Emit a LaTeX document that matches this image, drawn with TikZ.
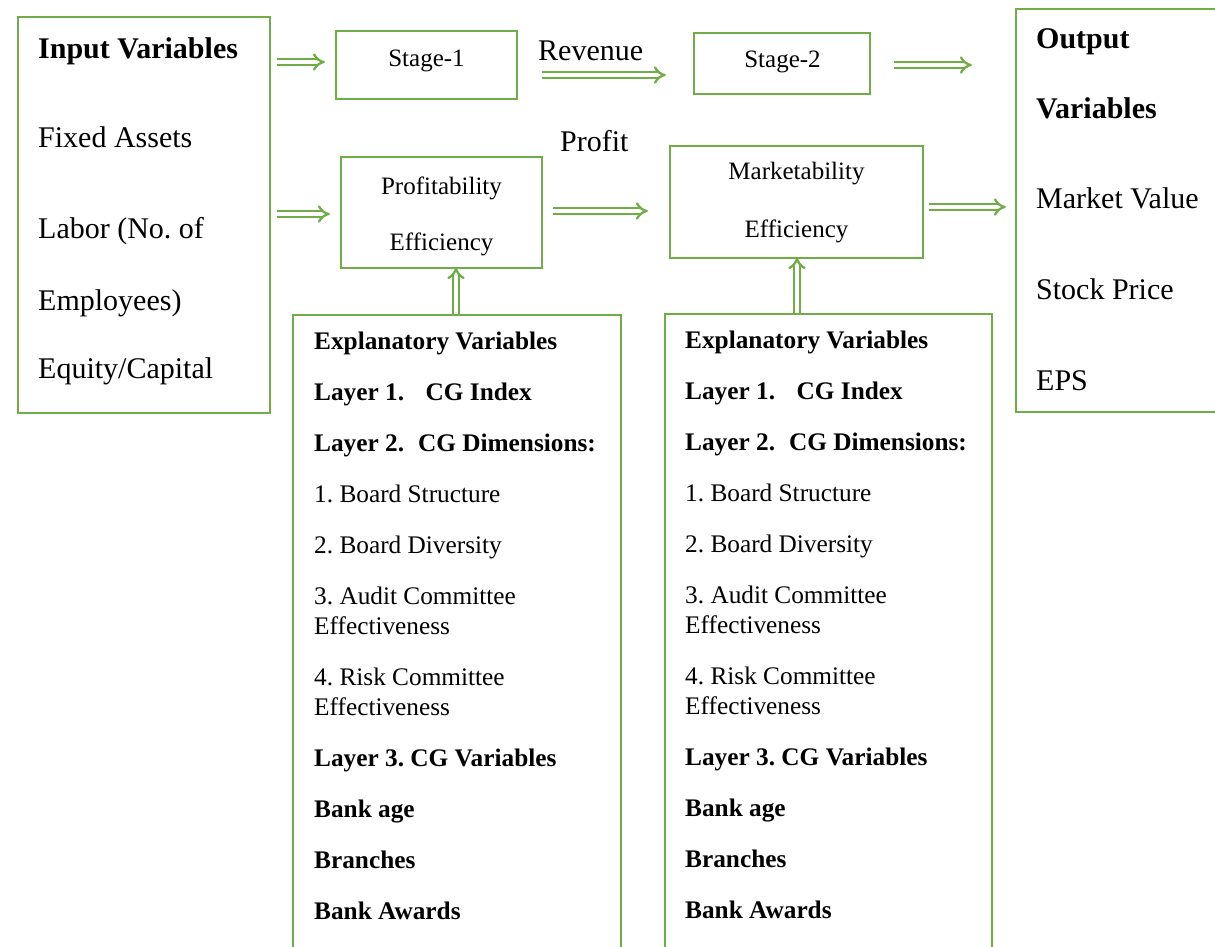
\documentclass[tikz,border=0pt]{standalone}
\usepackage{fontspec}
\setmainfont{Liberation Serif}
\usetikzlibrary{arrows.meta}
\definecolor{grn}{RGB}{112,173,71}
\begin{document}
\frenchspacing
\begin{tikzpicture}[x=1pt,y=-1pt,
  box/.style={draw=grn,line width=2.2pt,inner sep=0pt},
  dbl/.style={draw=grn,double=white,double distance=3.4pt,line width=2.3pt,-{Implies[length=5pt]}},
  big/.style={anchor=base west,inner sep=0pt,font=\fontsize{30}{36}\selectfont},
  mid/.style={anchor=base,inner sep=0pt,font=\fontsize{25}{30}\selectfont},
  ex/.style={anchor=base west,inner sep=0pt,font=\fontsize{25.3}{30}\selectfont}]
\useasboundingbox (0,0) rectangle (1215,946);
\clip (0,0) rectangle (1215,946);
% boxes
\node[box,minimum width=252pt,minimum height=396pt] (input) at (144,215) {};
\node[box,minimum width=181pt,minimum height=68pt] (s1) at (426.5,65) {};
\node[box,minimum width=176pt,minimum height=61pt] (s2) at (782,63.5) {};
\node[box,minimum width=210pt,minimum height=403pt] (output) at (1121,210.5) {};
\node[box,minimum width=201pt,minimum height=111pt] (prof) at (441.5,212.5) {};
\node[box,minimum width=253pt,minimum height=112pt] (mark) at (796.5,202) {};
\node[box,minimum width=328pt,minimum height=660pt] (exl) at (457,645) {};
\node[box,minimum width=327pt,minimum height=660pt] (exr) at (828.5,644) {};
% input text
\node[big,font=\fontsize{30}{36}\selectfont\bfseries] (t1) at (38,58) {Input Variables};
\node[big] (t2) at (38,147) {Fixed Assets};
\node[big] (t3) at (38,238) {Labor (No. of};
\node[big] (t4) at (38,310) {Employees)};
\node[big] (t5) at (38,378) {Equity/Capital};
% output text
\node[big,font=\fontsize{30}{36}\selectfont\bfseries] (o1) at (1036,48) {Output};
\node[big,font=\fontsize{30}{36}\selectfont\bfseries] (o2) at (1036,118) {Variables};
\node[big] (o3) at (1036,208) {Market Value};
\node[big] (o4) at (1036,299) {Stock Price};
\node[big] (o5) at (1036,390) {EPS};
% stage texts
\node[mid] (st1) at (426.5,66) {Stage-1};
\node[mid] (st2) at (782.5,67) {Stage-2};
\node[mid] (p1) at (441.5,194) {Profitability};
\node[mid] (p2) at (441.5,250) {Efficiency};
\node[mid] (m1) at (796.5,179) {Marketability};
\node[mid] (m2) at (796.5,237) {Efficiency};
\node[big] (rev) at (538,60) {Revenue};
\node[big] (pro) at (560,151) {Profit};
% explanatory texts
\foreach \xx/\pre/\dy in {314/L/0,685/R/1}{
\begin{scope}[yshift=\dy]
\node[ex,font=\fontsize{25.3}{30}\selectfont\bfseries] (\pre a) at (\xx,349) {Explanatory Variables};
\node[ex,font=\fontsize{25.3}{30}\selectfont\bfseries] (\pre b) at (\xx,400) {Layer 1.\hspace{0.85em}CG Index};
\node[ex,font=\fontsize{25.3}{30}\selectfont\bfseries] (\pre c) at (\xx,451) {Layer 2.\hspace{0.55em}CG Dimensions:};
\node[ex] (\pre d) at (\xx,502) {1. Board Structure};
\node[ex] (\pre e) at (\xx,553) {2. Board Diversity};
\node[ex] (\pre f) at (\xx,604) {3. Audit Committee};
\node[ex] (\pre g) at (\xx,634) {Effectiveness};
\node[ex] (\pre h) at (\xx,685) {4. Risk Committee};
\node[ex] (\pre i) at (\xx,715) {Effectiveness};
\node[ex,font=\fontsize{25.3}{30}\selectfont\bfseries] (\pre j) at (\xx,766) {Layer 3. CG Variables};
\node[ex,font=\fontsize{25.3}{30}\selectfont\bfseries] (\pre k) at (\xx,817) {Bank age};
\node[ex,font=\fontsize{25.3}{30}\selectfont\bfseries] (\pre l) at (\xx,868) {Branches};
\node[ex,font=\fontsize{25.3}{30}\selectfont\bfseries] (\pre m) at (\xx,919) {Bank Awards};
\end{scope}}
% arrows (yshift positive = upward on the page)
\draw[dbl,shorten <=6pt,shorten >=10pt] ([yshift=3pt]input.east |- s1.west) -- ([yshift=3pt]s1.west);
\draw[dbl,shorten <=24pt,shorten >=27pt] ([yshift=-10pt]s1.east) -- ([yshift=-10pt]s1.east -| s2.west);
\draw[dbl,shorten <=23pt,shorten >=43pt] ([yshift=-1.5pt]s2.east) -- ([yshift=-1.5pt]s2.east -| output.west);
\draw[dbl,shorten <=6pt,shorten >=10pt] ([yshift=-1.5pt]input.east |- prof.west) -- ([yshift=-1.5pt]prof.west);
\draw[dbl,shorten <=10pt,shorten >=21pt] ([yshift=1.5pt]prof.east) -- ([yshift=1.5pt]prof.east -| mark.west);
\draw[dbl,shorten <=5pt,shorten >=9pt] ([yshift=-5pt]mark.east) -- ([yshift=-5pt]mark.east -| output.west);
\draw[dbl,shorten >=-2pt] ([xshift=14.5pt]exl.north -| prof.south) -- ([xshift=14.5pt]prof.south);
\draw[dbl,shorten >=-2pt] ([xshift=0.5pt]exr.north -| mark.south) -- ([xshift=0.5pt]mark.south);
\end{tikzpicture}
\end{document}
